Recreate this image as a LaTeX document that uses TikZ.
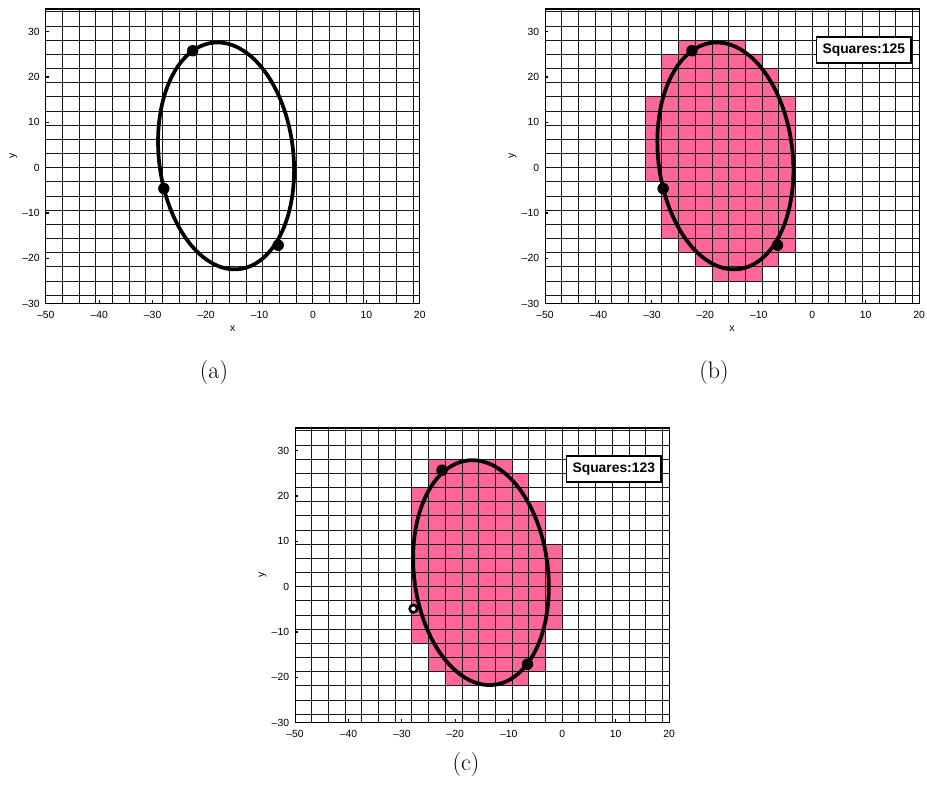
\documentclass[tikz,border=0pt]{standalone}
\usepackage{fontspec}
\usepackage{xcolor}
\usepackage{tikz}
\usetikzlibrary{shadows}
\newfontfamily\plotfont{Liberation Sans}
\definecolor{cellpink}{HTML}{FF6699}
\definecolor{gridink}{HTML}{1A1A1A}

\tikzset{
  panel/.style={x=4.007pt, y=3.4pt},
  gridline/.style={draw=gridink, line width=0.7pt},
  axisbox/.style={draw=black, line width=0.8pt},
  ticklabel/.style={font=\plotfont\fontsize{7.8}{9}\selectfont, inner sep=0pt},
  axislabel/.style={font=\plotfont\fontsize{7.8}{9}\selectfont, inner sep=0pt},
  curve/.style={draw=black, line width=2.8pt},
  hit/.style={fill=black},
  countbox/.style={draw=black, line width=1.1pt, fill=white, minimum width=71pt,
    minimum height=19.5pt, inner sep=0pt,
    font=\plotfont\bfseries\fontsize{10.4}{12}\selectfont,
    drop shadow={shadow xshift=0.9pt, shadow yshift=-0.9pt, opacity=1, fill=black}},
  caption/.style={font=\fontsize{18}{21}\selectfont, inner sep=0pt},
}

\newcommand{\ticktext}[1]{\ifnum#1<0 \textendash\number-#1\else#1\fi}

% grid, box, ticks and y label of one panel (#1 = prefix of node names)
\newcommand{\plotframe}[1]{%
  \foreach \k in {-15,...,6} \draw[gridline] (\k*3.125,-30) -- (\k*3.125,35);
  \foreach \k in {-9,...,11} \draw[gridline] (-50,\k*3.125) -- (20,\k*3.125);
  \draw[axisbox] (-50,-30) rectangle (20,35);
  \foreach \v in {-50,-40,...,20} {
    \draw[axisbox] (\v,-30) -- ++(0,2.5pt);
    \node[ticklabel, anchor=north, yshift=-5.5pt] (#1x\v) at (\v,-30) {\ticktext{\v}};
  }
  \foreach \v in {-30,-20,...,30} {
    \draw[axisbox] (-50,\v) -- ++(2.5pt,0);
    \node[ticklabel, anchor=east, xshift=-4.3pt] (#1y\v) at (-50,\v) {\ticktext{\v}};
  }
  \node[axislabel, rotate=90] (#1ylab) at ([xshift=-24.3pt]-50,2.5) {y};
}

\begin{document}
\begin{tikzpicture}[x=0.75pt, y=0.75pt]
\useasboundingbox (0,0) rectangle (927,805);

% (a) ellipse through the three points
\begin{scope}[shift={(312.9,637.3)}, panel]
  \plotframe{a}
  \node[axislabel, yshift=-18.5pt] (axlab) at (-15,-30) {x};
  \draw[curve] plot[domain=0:360, samples=120, smooth]
    ({-16.25+25.1*cos(\x)*cos(94.9)-12.6*sin(\x)*sin(94.9)},
     {2.6+25.1*cos(\x)*sin(94.9)+12.6*sin(\x)*cos(94.9)}) -- cycle;
  \coordinate (a1) at (-22.5,25.8);
  \coordinate (a2) at (-27.9,-4.6);
  \coordinate (a3) at (-6.5,-17.1);
  \foreach \p in {a1,a2,a3} \fill[hit] (\p) circle[radius=4.3pt];
\end{scope}

% (b) covered squares
\begin{scope}[shift={(812.2,637.3)}, panel]
  \foreach \j/\a/\b in {8/-8/-5, 7/-9/-4, 6/-9/-3, 5/-9/-3, 4/-10/-2, 3/-10/-2,
      2/-10/-2, 1/-10/-2, 0/-10/-2, -1/-10/-2, -2/-9/-2, -3/-9/-2, -4/-9/-2,
      -5/-9/-2, -6/-8/-2, -7/-7/-3, -8/-6/-4}
    \fill[cellpink] (\a*3.125,\j*3.125) rectangle ({(\b+1)*3.125},{(\j+1)*3.125});
  \plotframe{b}
  \node[axislabel, yshift=-18.5pt] (bxlab) at (-15,-30) {x};
  \draw[curve] plot[domain=0:360, samples=120, smooth]
    ({-16.25+25.1*cos(\x)*cos(94.9)-12.6*sin(\x)*sin(94.9)},
     {2.6+25.1*cos(\x)*sin(94.9)+12.6*sin(\x)*cos(94.9)}) -- cycle;
  \coordinate (b1) at (-22.5,25.8);
  \coordinate (b2) at (-27.9,-4.6);
  \coordinate (b3) at (-6.5,-17.1);
  \foreach \p in {b1,b2,b3} \fill[hit] (\p) circle[radius=4.3pt];
  \node[countbox] (bcount) at (9.65,26) {Squares:125};
\end{scope}

% (c)
\begin{scope}[shift={(562.2,218.3)}, panel]
  \foreach \j/\a/\b in {8/-8/-4, 7/-8/-3, 6/-9/-3, 5/-9/-2, 4/-9/-2, 3/-9/-2,
      2/-9/-1, 1/-9/-1, 0/-9/-1, -1/-9/-1, -2/-9/-1, -3/-9/-1, -4/-9/-2,
      -5/-8/-2, -6/-8/-2, -7/-7/-3}
    \fill[cellpink] (\a*3.125,\j*3.125) rectangle ({(\b+1)*3.125},{(\j+1)*3.125});
  \plotframe{c}
  \draw[curve] plot[domain=0:360, samples=120, smooth]
    ({-15.2+24.87*cos(\x)*cos(95)-12.56*sin(\x)*sin(95)},
     {3.1+24.87*cos(\x)*sin(95)+12.56*sin(\x)*cos(95)}) -- cycle;
  \coordinate (c1) at (-22.5,25.7);
  \coordinate (c2) at (-27.85,-4.85);
  \coordinate (c3) at (-6.5,-17.1);
  \foreach \p in {c1,c3} \fill[hit] (\p) circle[radius=4.3pt];
  \draw[line width=2pt, fill=white] (c2) circle[radius=2.8pt];
  \node[countbox] (ccount) at (9.65,26) {Squares:123};
\end{scope}

\node[caption] (capa) at (214,432) {(a)};
\node[caption] (capb) at (714,432) {(b)};
\node[caption] (capc) at (466,40) {(c)};
\end{tikzpicture}
\end{document}
